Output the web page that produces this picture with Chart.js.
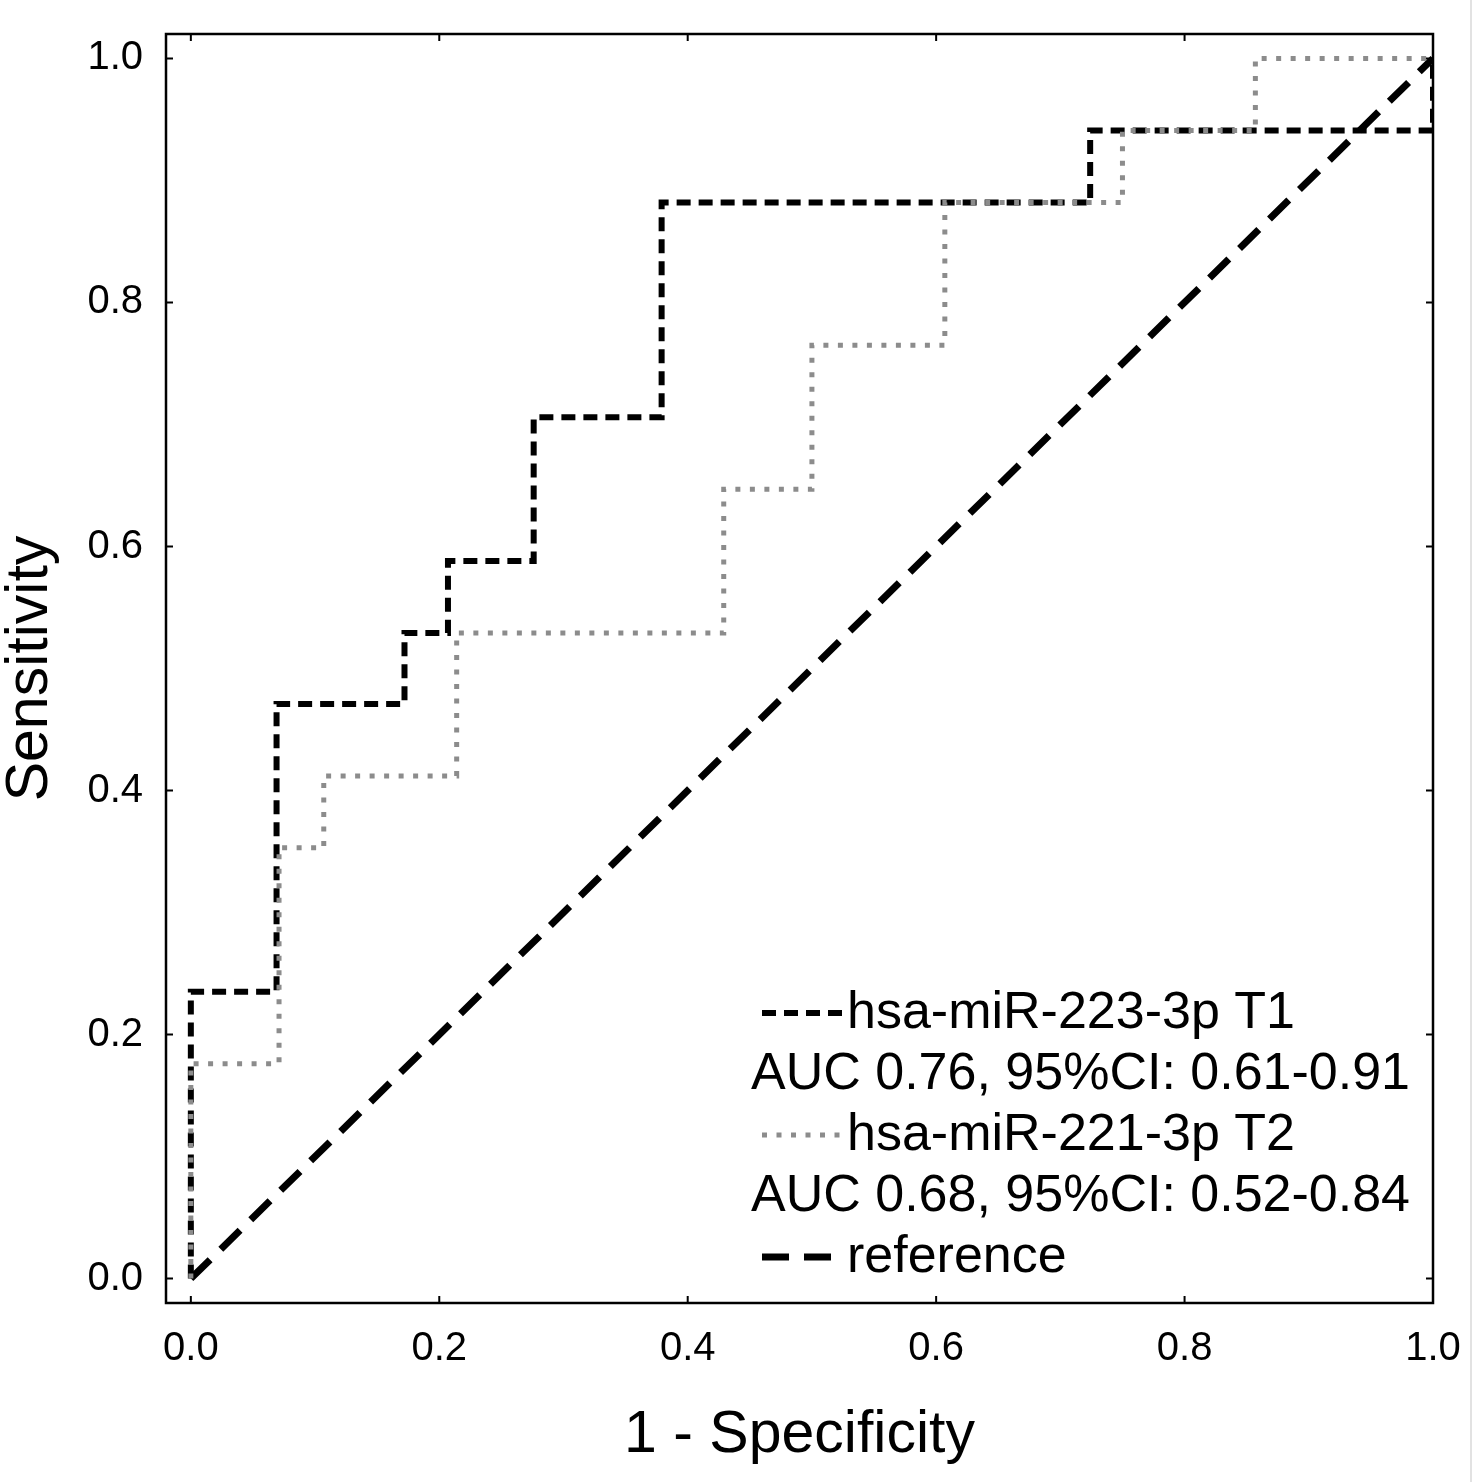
<!DOCTYPE html>
<html lang="en">
<head>
<meta charset="UTF-8">
<title>ROC curves</title>
<style>
  html, body { margin: 0; padding: 0; background: #fff; }
  #wrap { width: 1476px; height: 1482px; }
</style>
</head>
<body>
<div id="wrap"><canvas id="roc" width="1476" height="1482"></canvas></div>
<script src="https://cdn.jsdelivr.net/npm/chart.js"></script>
<script>
// ROC points (1 - specificity, sensitivity)
var fprT1 = [0, 0, 0.069, 0.069, 0.172, 0.172, 0.207, 0.207, 0.276, 0.276, 0.379, 0.379, 0.724, 0.724, 1, 1];
var tprT1 = [0, 0.235, 0.235, 0.471, 0.471, 0.529, 0.529, 0.588, 0.588, 0.706, 0.706, 0.882, 0.882, 0.941, 0.941, 1];

var fprT2 = [0, 0, 0.071, 0.071, 0.107, 0.107, 0.214, 0.214, 0.429, 0.429, 0.5, 0.5, 0.607, 0.607, 0.75, 0.75, 0.857, 0.857, 1];
var tprT2 = [0, 0.176, 0.176, 0.353, 0.353, 0.412, 0.412, 0.529, 0.529, 0.647, 0.647, 0.765, 0.765, 0.882, 0.882, 0.941, 0.941, 1, 1];

var refX = [0, 1];
var refY = [0, 1];

var xTicks = [0, 0.2, 0.4, 0.6, 0.8, 1.0];
var yTicks = [0, 0.2, 0.4, 0.6, 0.8, 1.0];

var seriesNames = ['hsa-miR-223-3p T1', 'hsa-miR-221-3p T2', 'reference'];
var aucTexts = ['AUC 0.76, 95%CI: 0.61-0.91', 'AUC 0.68, 95%CI: 0.52-0.84'];

var FONT = '"Liberation Sans", Arial, sans-serif';
var GREY = '#8c8c8c';

function toPoints(xs, ys) {
    return xs.map(function (v, i) { return { x: v, y: ys[i] }; });
}

// no extra room for edge labels, the layout padding already covers it
function noScalePadding(s) {
    s.paddingTop = 0;
    s.paddingBottom = 0;
    s.paddingLeft = 0;
    s.paddingRight = 0;
}

// box + small inward ticks on all four sides
const frameAndTicks = {
    id: 'frameAndTicks',
    afterDatasetsDraw(chart) {
        const { ctx, chartArea: a, scales } = chart;
        ctx.save();
        ctx.strokeStyle = '#000';
        ctx.lineWidth = 2.5;
        ctx.setLineDash([]);
        ctx.strokeRect(a.left, a.top, a.right - a.left, a.bottom - a.top);
        ctx.lineWidth = 2;
        ctx.beginPath();
        xTicks.forEach(v => {
            const px = scales.x.getPixelForValue(v);
            ctx.moveTo(px, a.bottom); ctx.lineTo(px, a.bottom - 7);
            ctx.moveTo(px, a.top); ctx.lineTo(px, a.top + 7);
        });
        yTicks.forEach(v => {
            const py = scales.y.getPixelForValue(v);
            ctx.moveTo(a.left, py); ctx.lineTo(a.left + 7, py);
            ctx.moveTo(a.right, py); ctx.lineTo(a.right - 7, py);
        });
        ctx.stroke();
        // faint edge line at the right of the picture
        ctx.strokeStyle = '#e2e2e2';
        ctx.beginPath();
        ctx.moveTo(chart.width - 5, 0); ctx.lineTo(chart.width - 5, chart.height);
        ctx.stroke();
        ctx.restore();
    }
};

// legend in the lower right corner, with the AUC lines under each curve
const rocLegend = {
    id: 'rocLegend',
    afterDraw(chart) {
        const { ctx, chartArea: a } = chart;
        const sx = a.left + 596;
        const tx = a.left + 681;
        const ax = a.left + 585;
        const base0 = a.bottom - 275;
        const step = 61;
        const samples = [
            { color: '#000', width: 6, dash: [14, 8], len: 80 },
            { color: GREY, width: 5, dash: [5, 9.5], len: 78 },
            { color: '#000', width: 7, dash: [27, 15], len: 69 }
        ];
        const rows = [
            { sample: 0, text: seriesNames[0] },
            { text: aucTexts[0] },
            { sample: 1, text: seriesNames[1] },
            { text: aucTexts[1] },
            { sample: 2, text: seriesNames[2] }
        ];
        ctx.save();
        ctx.font = '52px ' + FONT;
        ctx.fillStyle = '#000';
        ctx.textBaseline = 'alphabetic';
        ctx.textAlign = 'left';
        rows.forEach((r, i) => {
            const base = base0 + i * step;
            if (r.sample !== undefined) {
                const s = samples[r.sample];
                ctx.strokeStyle = s.color;
                ctx.lineWidth = s.width;
                ctx.lineCap = 'butt';
                ctx.setLineDash(s.dash);
                ctx.beginPath();
                ctx.moveTo(sx, base - 15);
                ctx.lineTo(sx + s.len, base - 15);
                ctx.stroke();
                ctx.fillText(r.text, tx, base);
            } else {
                ctx.fillText(r.text, ax, base);
            }
        });
        ctx.restore();
    }
};

new Chart(document.getElementById('roc'), {
    type: 'scatter',
    data: {
        datasets: [
            {
                label: seriesNames[1],
                data: toPoints(fprT2, tprT2),
                showLine: true,
                borderColor: GREY,
                borderWidth: 5,
                borderDash: [5, 9.5],
                borderCapStyle: 'butt',
                pointRadius: 0,
                order: 0
            },
            {
                label: seriesNames[0],
                data: toPoints(fprT1, tprT1),
                showLine: true,
                borderColor: '#000',
                borderWidth: 6,
                borderDash: [14, 8],
                borderCapStyle: 'butt',
                pointRadius: 0,
                order: 1
            },
            {
                label: seriesNames[2],
                data: toPoints(refX, refY),
                showLine: true,
                borderColor: '#000',
                borderWidth: 7,
                borderDash: [27, 15],
                borderCapStyle: 'butt',
                pointRadius: 0,
                order: 2
            }
        ]
    },
    options: {
        responsive: false,
        animation: false,
        layout: { padding: { top: 34, right: 43, left: 0, bottom: 0 } },
        plugins: {
            legend: { display: false },
            tooltip: { enabled: false }
        },
        scales: {
            x: {
                type: 'linear',
                min: -0.02,
                max: 1.0,
                grid: { display: false, drawTicks: false },
                border: { display: false },
                afterBuildTicks: s => { s.ticks = xTicks.map(v => ({ value: v })); },
                afterFit: s => { s.height = 179; noScalePadding(s); },
                ticks: {
                    padding: 22,
                    color: '#000',
                    maxRotation: 0,
                    autoSkip: false,
                    font: { family: FONT, size: 40 },
                    callback: v => v.toFixed(1)
                },
                title: {
                    display: true,
                    text: '1 - Specificity',
                    color: '#000',
                    font: { family: FONT, size: 59, lineHeight: 1 },
                    padding: { top: 0, bottom: 17 }
                }
            },
            y: {
                type: 'linear',
                min: -0.02,
                max: 1.02,
                grid: { display: false, drawTicks: false },
                border: { display: false },
                afterBuildTicks: s => { s.ticks = yTicks.map(v => ({ value: v })); },
                afterFit: s => { s.width = 166; noScalePadding(s); },
                ticks: {
                    padding: 23,
                    color: '#000',
                    autoSkip: false,
                    font: { family: FONT, size: 40 },
                    callback: v => v.toFixed(1)
                },
                title: {
                    display: true,
                    text: 'Sensitivity',
                    color: '#000',
                    font: { family: FONT, size: 59, lineHeight: 1 },
                    padding: { top: 1, bottom: 0 }
                }
            }
        }
    },
    plugins: [frameAndTicks, rocLegend]
});
</script>
</body>
</html>
